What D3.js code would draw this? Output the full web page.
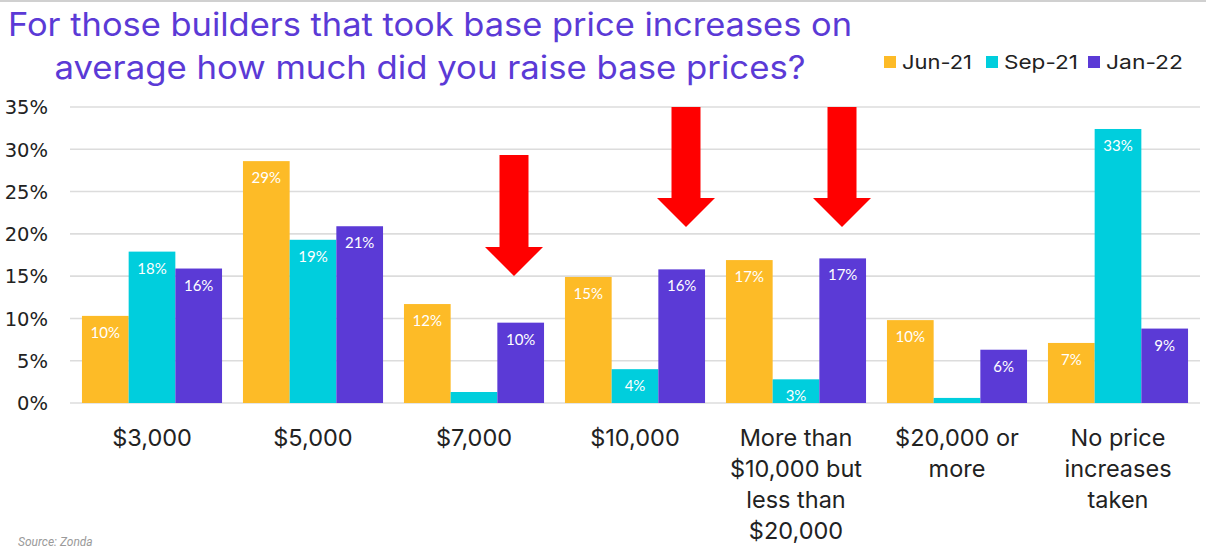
<!DOCTYPE html>
<html><head><meta charset="utf-8">
<script src="https://cdn.jsdelivr.net/npm/d3@7"></script>
<style>html,body{margin:0;padding:0;background:#fff;}svg{display:block;}</style>
</head><body>
<svg id="chart" width="1206" height="549"></svg>
<script>
const categories = [["$3,000"],["$5,000"],["$7,000"],["$10,000"],["More than","$10,000 but","less than","$20,000"],["$20,000 or","more"],["No price","increases","taken"]];
const seriesNames = ["Jun-21","Sep-21","Jan-22"];
const jun21 = [10.3, 28.6, 11.7, 14.9, 16.9, 9.8, 7.1];
const sep21 = [17.9, 19.3, 1.3, 4.0, 2.8, 0.6, 32.4];
const jan22 = [15.9, 20.9, 9.5, 15.8, 17.1, 6.3, 8.8];
const labelsJun = ["10%","29%","12%","15%","17%","10%","7%"];
const labelsSep = ["18%","19%","1%","4%","3%","",  "33%"];
const labelsJan = ["16%","21%","10%","16%","17%","6%","9%"];
const yTicks = [0,5,10,15,20,25,30,35];
const colors = ["#FDBB27","#00CEDD","#5B3AD6"];
const titleLines = ["For those builders that took base price increases on","average how much did you raise base prices?"];

const svg = d3.select("#chart");
svg.append("rect").attr("x",0).attr("y",0).attr("width",1206).attr("height",2).attr("fill","#d0d0d0");

const x = d3.scaleBand().domain(d3.range(categories.length)).range([71.5,1198.5]).paddingInner(0.13).paddingOuter(0.065);
const xs = d3.scaleBand().domain(d3.range(3)).range([0,x.bandwidth()]);
const y = d3.scaleLinear().domain([0,35]).range([403,107]);

// grid
svg.append("g").selectAll("line").data(yTicks).join("line")
  .attr("x1",70).attr("x2",1200).attr("y1",d=>y(d)).attr("y2",d=>y(d))
  .attr("stroke","#dcdcdc").attr("stroke-width",1.6);

// y axis
const yAxis = d3.axisLeft(y).tickValues(yTicks).tickFormat(d=>d+"%").tickSize(0).tickPadding(0);
const gy = svg.append("g").attr("transform","translate(48,0)").call(yAxis);
gy.select(".domain").remove();
gy.selectAll("text").attr("font-family","DejaVu Sans, sans-serif").attr("font-size",19.5).attr("fill","#222").attr("dy","0.35em");

const series = [jun21,sep21,jan22];
const labels = [labelsJun,labelsSep,labelsJan];
const defs = svg.append("defs");
series.forEach((vals,si)=>{
  const g = svg.append("g");
  vals.forEach((v,ci)=>{
    const bx = x(ci)+xs(si), bw = xs.bandwidth(), by = y(v), bh = y(0)-y(v);
    const id = "clip"+si+"_"+ci;
    defs.append("clipPath").attr("id",id).append("rect").attr("x",bx).attr("y",by).attr("width",bw).attr("height",bh);
    g.append("rect").attr("x",bx).attr("y",by).attr("width",bw).attr("height",bh).attr("fill",colors[si]);
    if(labels[si][ci]){
      g.append("text").attr("clip-path","url(#"+id+")")
        .attr("x",bx+bw/2).attr("y",by+22).attr("text-anchor","middle")
        .attr("font-family","Lato, sans-serif").attr("font-size",15).attr("fill","#fff")
        .text(labels[si][ci]);
    }
  });
});

// category labels
const gx = svg.append("g");
categories.forEach((lines,ci)=>{
  const t = gx.append("text").attr("text-anchor","middle").attr("font-family","Inter, sans-serif")
    .attr("font-size",23.5).attr("fill","#222");
  lines.forEach((l,li)=>t.append("tspan").attr("x",x(ci)+x.bandwidth()/2).attr("y",446+li*31).text(l));
});

// title
const tt = svg.append("text").attr("text-anchor","middle").attr("font-family","Inter, sans-serif")
  .attr("font-size",32).attr("fill","#5B3AD6");
const titleW = [844,751];
titleLines.forEach((l,i)=>tt.append("tspan").attr("x",430).attr("y",36+i*43)
  .attr("textLength",titleW[i]).attr("lengthAdjust","spacingAndGlyphs").text(l));

// legend
const legX = [884,986,1088];
const legW = [70,74,77];
seriesNames.forEach((n,i)=>{
  svg.append("rect").attr("x",legX[i]).attr("y",56).attr("width",12).attr("height",12).attr("fill",colors[i]);
  svg.append("text").attr("x",legX[i]+18).attr("y",69).attr("font-family","Inter, sans-serif")
    .attr("font-size",19).attr("fill","#222").attr("textLength",legW[i]).attr("lengthAdjust","spacingAndGlyphs").text(n);
});

// red arrows (annotation)
const arrows = [{cx:514,top:155,head:247,tip:276},{cx:686,top:107,head:198,tip:227},{cx:842,top:107,head:198,tip:227}];
arrows.forEach(a=>{
  const sw=14.5, hw=29;
  svg.append("path").attr("fill","#FF0000").attr("d",
    `M${a.cx-sw},${a.top}L${a.cx+sw},${a.top}L${a.cx+sw},${a.head}L${a.cx+hw},${a.head}L${a.cx},${a.tip}L${a.cx-hw},${a.head}L${a.cx-sw},${a.head}Z`);
});

// source
svg.append("text").attr("x",18).attr("y",546).attr("font-family","Roboto, sans-serif").attr("font-style","italic")
  .attr("font-size",12).attr("fill","#9a9a9a").text("Source: Zonda");
</script>
</body></html>
